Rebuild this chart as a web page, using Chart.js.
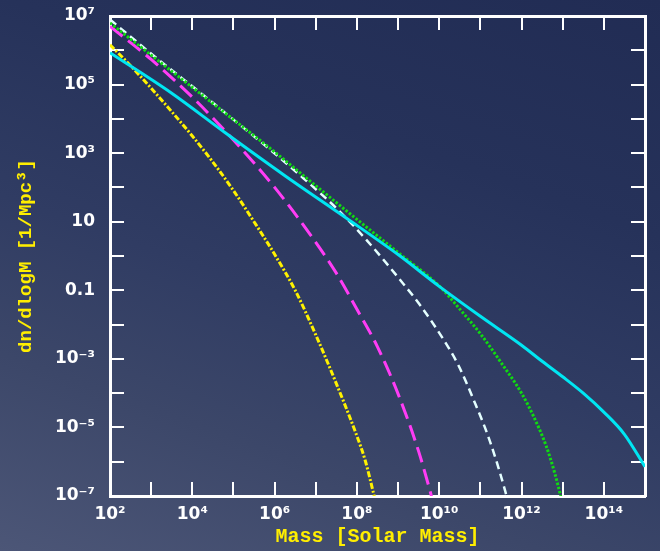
<!DOCTYPE html>
<html><head><meta charset="utf-8">
<script src="https://cdn.jsdelivr.net/npm/chart.js@4.4.0/dist/chart.umd.min.js"></script>
<style>
html,body{margin:0;padding:0;width:660px;height:551px;overflow:hidden;}
body{background:linear-gradient(200deg,#212c54 0%,#26325a 30%,#303c63 55%,#3c4769 75%,#4c5677 100%);}
canvas{display:block}
</style></head><body>
<canvas id="c" width="660" height="551"></canvas>
<script>
// ---- data ----
const massCyan = [1e2, 3.16e3, 6.2e4, 1.78e6, 5.6e7, 1e9, 1e10, 1e11, 1e12, 3.16e12, 1e13, 3.16e13, 1e14, 3.16e14, 1e15];
const nCyan    = [8.5e5, 5.6e4, 4.0e3, 2.2e2, 12.6, 1.1, 0.13, 0.0174, 2.5e-3, 8.5e-4, 3.0e-4, 1.0e-4, 2.8e-5, 6.3e-6, 7.1e-7];

const massGreen = [1e2, 1e3, 1e4, 1e5, 7.8e5, 1e7, 1e8, 1e9, 1.05e10, 3.16e10, 1e11, 3.16e11, 1e12, 2.0e12, 4.0e12, 6.3e12, 8.9e12, 9.5e12];
const nGreen    = [6.3e6, 7.2e5, 8.3e4, 9.5e3, 1.38e3, 112, 11.7, 1.26, 0.126, 0.0282, 5.4e-3, 7.9e-4, 1.0e-4, 2.0e-5, 2.8e-6, 5.0e-7, 1.0e-7, 7.1e-8];

const massWhite = [1e2, 1.23e3, 2.04e4, 1e5, 7.8e5, 5.0e6, 3.2e7, 1.7e8, 1.32e9, 3.55e9, 1.32e10, 2.9e10, 6.6e10, 1.7e11, 4.0e11, 4.3e11, 4.6e11];
const nWhite    = [7.9e6, 6.5e5, 4.5e4, 9.5e3, 1.26e3, 186, 24.5, 2.95, 0.158, 0.035, 3.4e-3, 6.6e-4, 7.1e-5, 4.0e-6, 1.41e-7, 1.0e-7, 7.0e-8];

const massMagenta = [1e2, 1e3, 1e4, 1e5, 1e6, 1e7, 3.16e7, 1e8, 3.16e8, 1e9, 3.16e9, 6.3e9, 6.8e9];
const nMagenta    = [5.0e6, 5.4e5, 4.3e4, 2.4e3, 100, 2.5, 0.316, 0.028, 2.24e-3, 9.5e-5, 2.0e-6, 1.12e-7, 7.9e-8];

const massYellow = [1e2, 3.16e2, 1e3, 3.16e3, 1e4, 3.16e4, 1e5, 3.16e5, 1e6, 3.16e6, 1e7, 3.16e7, 1e8, 1.58e8, 2.63e8, 2.82e8];
const nYellow    = [1.45e6, 3.55e5, 7.8e4, 1.62e4, 3.16e3, 550, 81, 10, 1.12, 0.1, 5.0e-3, 1.9e-4, 5.6e-6, 1.12e-6, 1.0e-7, 7.1e-8];

const xTickValues = [1e2, 1e3, 1e4, 1e5, 1e6, 1e7, 1e8, 1e9, 1e10, 1e11, 1e12, 1e13, 1e14, 1e15];
const xTickLabels = ['10²', '', '10⁴', '', '10⁶', '', '10⁸', '', '10¹⁰', '', '10¹²', '', '10¹⁴', ''];
const yTickValues = [1e-7, 1e-6, 1e-5, 1e-4, 1e-3, 1e-2, 1e-1, 1, 10, 1e2, 1e3, 1e4, 1e5, 1e6, 1e7];
const yTickLabels = ['10⁻⁷', '', '10⁻⁵', '', '10⁻³', '', '0.1', '', '10', '', '10³', '', '10⁵', '', '10⁷'];

const xTitle = 'Mass [Solar Mass]';
const yTitle = 'dn/dlogM [1/Mpc³]';

function pts(xs, ys) { return xs.map((x, i) => ({x: x, y: ys[i]})); }

const tickFont = {family: 'DejaVu Sans', weight: 'bold', size: 17};
const titleFont = {family: 'Liberation Mono', weight: 'bold', size: 19};

function baseGrid() {
  return {display: true, drawOnChartArea: false, drawTicks: true, tickLength: -14,
          color: '#ffffff', tickColor: '#ffffff', lineWidth: 2, tickWidth: 2};
}
const border = {display: true, color: '#ffffff', width: 3};
function fixSize(prop, val) {
  return s => { s[prop] = val; s.paddingTop = 0; s.paddingBottom = 0; s.paddingLeft = 0; s.paddingRight = 0; };
}

new Chart(document.getElementById('c'), {
  type: 'line',
  data: {
    datasets: [
      {data: pts(massCyan, nCyan), borderColor: '#00e6f2', borderWidth: 3},
      {data: pts(massGreen, nGreen), borderColor: '#10dc10', borderWidth: 3, borderDash: [2.5, 1.8]},
      {data: pts(massWhite, nWhite), borderColor: '#e4ffff', borderWidth: 2.5, borderDash: [8, 5]},
      {data: pts(massMagenta, nMagenta), borderColor: '#ff3cf5', borderWidth: 3, borderDash: [16, 7]},
      {data: pts(massYellow, nYellow), borderColor: '#fff200', borderWidth: 3, borderDash: [6, 2, 2, 2]}
    ]
  },
  options: {
    responsive: false,
    animation: false,
    events: [],
    layout: {padding: 0},
    elements: {point: {radius: 0}, line: {cubicInterpolationMode: 'monotone', fill: false}},
    plugins: {legend: {display: false}, tooltip: {enabled: false}},
    scales: {
      x: {
        type: 'logarithmic', position: 'bottom', min: 1e2, max: 1e15,
        afterBuildTicks: s => { s.ticks = xTickValues.map(v => ({value: v})); },
        afterFit: fixSize('height', 55),
        ticks: {autoSkip: false, maxRotation: 0, minRotation: 0, color: '#ffffff', font: tickFont, padding: 22,
                callback: (v, i) => xTickLabels[i]},
        grid: baseGrid(), border: border,
        title: {display: true, text: xTitle, color: '#ffee00', font: {family: 'Liberation Mono', weight: 'bold', size: 20}, padding: {top: 0, bottom: 2}}
      },
      x2: {
        type: 'logarithmic', position: 'top', min: 1e2, max: 1e15,
        afterBuildTicks: s => { s.ticks = xTickValues.map(v => ({value: v})); },
        afterFit: fixSize('height', 16),
        ticks: {display: false}, grid: baseGrid(), border: border
      },
      y: {
        type: 'logarithmic', position: 'left', min: 1e-7, max: 1e7,
        afterBuildTicks: s => { s.ticks = yTickValues.map(v => ({value: v})); },
        afterFit: fixSize('width', 110),
        ticks: {autoSkip: false, color: '#ffffff', font: tickFont, padding: 29,
                callback: (v, i) => yTickLabels[i]},
        grid: baseGrid(), border: border,
        title: {display: true, text: yTitle, color: '#ffee00', font: titleFont, padding: {top: 15, bottom: 0}}
      },
      y2: {
        type: 'logarithmic', position: 'right', min: 1e-7, max: 1e7,
        afterBuildTicks: s => { s.ticks = yTickValues.map(v => ({value: v})); },
        afterFit: fixSize('width', 15),
        ticks: {display: false}, grid: baseGrid(), border: border
      }
    }
  }
});
</script>
</body></html>
